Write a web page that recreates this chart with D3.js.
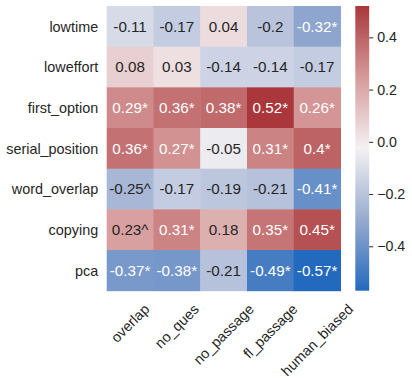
<!DOCTYPE html>
<html><head><meta charset="utf-8">
<script src="https://cdn.jsdelivr.net/npm/d3@7"></script>
<style>body{margin:0;background:#fff}svg{display:block}text{font-family:"Liberation Sans",Arial,sans-serif}</style>
</head><body>
<svg id="chart" width="412" height="382"></svg>
<script>
const rowLabels = ["lowtime","loweffort","first_option","serial_position","word_overlap","copying","pca"];
const colLabels = ["overlap","no_ques","no_passage","fl_passage","human_biased"];
const values = [
  [-0.11,-0.17, 0.04,-0.20,-0.32],
  [ 0.08, 0.03,-0.14,-0.14,-0.17],
  [ 0.29, 0.36, 0.38, 0.52, 0.26],
  [ 0.36, 0.27,-0.05, 0.31, 0.40],
  [-0.25,-0.17,-0.19,-0.21,-0.41],
  [ 0.23, 0.31, 0.18, 0.35, 0.45],
  [-0.37,-0.38,-0.21,-0.49,-0.57]
];
const annotations = [
  ["-0.11","-0.17","0.04","-0.2","-0.32*"],
  ["0.08","0.03","-0.14","-0.14","-0.17"],
  ["0.29*","0.36*","0.38*","0.52*","0.26*"],
  ["0.36*","0.27*","-0.05","0.31*","0.4*"],
  ["-0.25^","-0.17","-0.19","-0.21","-0.41*"],
  ["0.23^","0.31*","0.18","0.35*","0.45*"],
  ["-0.37*","-0.38*","-0.21","-0.49*","-0.57*"]
];
const cbarTicks = [0.4, 0.2, 0.0, -0.2, -0.4];

const svg = d3.select("#chart");
const X0 = 106.7, X1 = 340.5, Y0 = 6, Y1 = 290.7;
const x = d3.scaleBand().domain(colLabels).range([X0, X1]);
const y = d3.scaleBand().domain(rowLabels).range([Y0, Y1]);
const flat = values.flat();
const vmin = d3.min(flat), vmax = d3.max(flat);
const vlag = d3.piecewise(d3.interpolateRgb, ["#2369bd","#98abcf","#f4f1f3","#d69a9a","#a9373b"]);
const color = d3.scaleSequential(vlag).domain([vmin, vmax]);
const ink = "#262626";

function lum(c){
  const r = d3.rgb(c);
  const f = v => { v/=255; return v <= 0.03928 ? v/12.92 : Math.pow((v+0.055)/1.055, 2.4); };
  return 0.2126*f(r.r)+0.7152*f(r.g)+0.0722*f(r.b);
}

const cells = [];
rowLabels.forEach((r,i)=>colLabels.forEach((c,j)=>cells.push({r,c,v:values[i][j],t:annotations[i][j]})));

svg.append("g").selectAll("rect").data(cells).join("rect")
  .attr("x", d=>x(d.c)).attr("y", d=>y(d.r))
  .attr("width", x.bandwidth()+0.5).attr("height", y.bandwidth()+0.5)
  .attr("fill", d=>color(d.v));

svg.append("g").selectAll("text").data(cells).join("text")
  .attr("x", d=>x(d.c)+x.bandwidth()/2).attr("y", d=>y(d.r)+y.bandwidth()/2)
  .attr("text-anchor","middle").attr("dy","0.36em")
  .attr("font-size", 15.2)
  .attr("fill", d=> lum(color(d.v)) > 0.408 ? ink : "#ffffff")
  .text(d=>d.t);

// row labels
svg.append("g").selectAll("text").data(rowLabels).join("text")
  .attr("x", X0-8.5).attr("y", d=>y(d)+y.bandwidth()/2)
  .attr("text-anchor","end").attr("dy","0.36em")
  .attr("font-size", 14.4).attr("fill", ink).text(d=>d);

// column labels rotated 45
const colG = svg.append("g");
colLabels.forEach(c=>{
  const t = colG.append("text").attr("font-size",14.4).attr("fill",ink)
    .attr("text-anchor","middle").attr("dominant-baseline","central").text(c);
  const w = t.node().getComputedTextLength();
  const h = 14.4*1.0;
  const cx = x(c)+x.bandwidth()/2;
  const cy = 301.5 + (w+h)/(2*Math.SQRT2);
  t.attr("transform",`translate(${cx},${cy}) rotate(-45)`);
});

// colorbar
const CB0 = 355.3, CB1 = 369.2;
const cy = d3.scaleLinear().domain([vmin, vmax]).range([Y1, Y0]);
const defs = svg.append("defs");
const grad = defs.append("linearGradient").attr("id","cbg").attr("x1",0).attr("y1",1).attr("x2",0).attr("y2",0);
d3.range(0,1.0001,0.02).forEach(s=>grad.append("stop").attr("offset",s).attr("stop-color",vlag(s)));
svg.append("rect").attr("x",CB0).attr("y",Y0).attr("width",CB1-CB0).attr("height",Y1-Y0).attr("fill","url(#cbg)");
const axis = d3.axisRight(cy).tickValues(cbarTicks).tickSize(4).tickPadding(4)
  .tickFormat(d=> (d<0?"\u2212":"") + Math.abs(d).toFixed(1));
const ag = svg.append("g").attr("transform",`translate(${CB1},0)`).call(axis);
ag.select(".domain").remove();
ag.selectAll("line").attr("stroke",ink).attr("stroke-width",1);
ag.selectAll("text").attr("font-size",14.2).attr("fill",ink).attr("font-family",'"Liberation Sans",Arial,sans-serif');
</script>
</body></html>
